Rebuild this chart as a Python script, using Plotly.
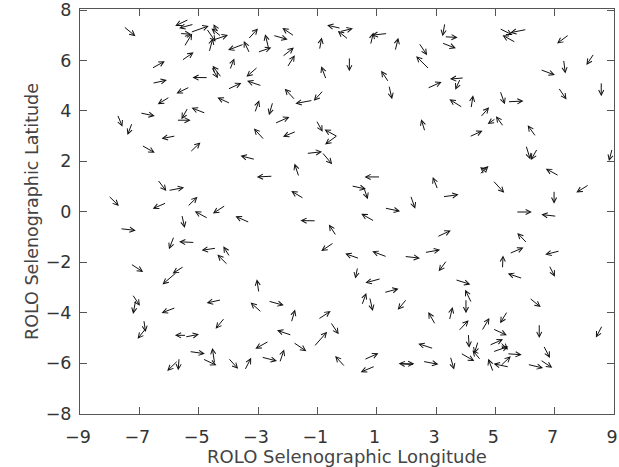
import plotly.graph_objects as go

# Arrow tails (selenographic longitude / latitude, degrees)
x_tail = [-7.54,-5.33,-5.16,-5.64,-5.49,-5.28,-4.35,-4.23,-4.65,-4.51,-4.74,-6.59,-5.58,-4.23,-4.57,-6.57,-4.68,-5.30,-5.97,-3.93,
          -6.98,-7.74,-7.24,-5.36,-4.76,-5.75,-5.77,-3.34,-3.47,-3.28,-3.02,-2.64,-2.50,-1.77,-2.19,-2.02,-3.95,-3.00,-4.03,-2.87,
          -1.15,-0.79,-1.74,-3.11,-2.50,-2.44,-2.78,-1.71,-1.04,-0.31,-0.93,-0.70,0.08,-0.20,0.05,-0.25,1.37,0.79,1.62,2.42,
          2.78,3.30,3.28,3.19,1.41,1.41,2.70,3.95,3.82,3.90,4.18,4.49,2.63,4.12,6.06,5.13,5.69,7.49,8.33,6.51,
          7.30,8.57,7.12,5.16,5.41,5.28,5.02,6.37,-6.93,-5.30,-6.39,-6.03,-8.05,-6.08,-5.39,-4.68,-4.09,-5.57,-7.65,-5.83,
          -5.13,-4.40,-3.95,-4.01,-7.30,-5.49,-0.31,-1.37,-0.85,-3.09,-1.62,-2.50,-1.45,-3.28,-1.04,-0.36,-0.44,0.42,0.36,1.13,
          0.14,0.57,3.06,3.22,2.14,1.26,0.93,4.46,4.74,3.03,2.61,1.93,1.35,3.37,6.03,6.42,8.94,4.91,7.15,6.98,
          8.16,5.69,7.07,6.08,5.47,7.18,5.24,6.81,-5.73,-7.24,-7.12,-5.77,-4.23,-6.85,-6.76,-4.12,-5.41,-5.47,-5.32,-4.87,
          -4.46,-5.66,-5.69,-2.97,-2.87,-2.66,-1.88,-0.98,-0.56,-1.86,-1.82,-1.12,-2.63,-4.01,-3.45,-2.89,-2.27,-0.06,1.15,1.24,
          0.50,0.76,2.02,2.98,3.45,3.64,4.20,4.01,3.75,4.54,4.09,3.82,4.51,4.42,2.92,0.57,0.95,1.77,2.27,2.55,
          3.48,5.92,6.14,5.41,4.91,6.48,4.79,4.91,5.16,5.39,5.16,5.47,4.93,6.62,6.51,6.08,8.61]
y_tail = [7.36,7.63,7.44,7.07,6.54,7.11,7.10,6.94,6.32,6.81,7.27,5.68,5.99,5.31,5.75,5.09,5.32,4.95,4.56,4.29,
          3.92,3.86,3.53,4.13,3.90,3.63,3.01,6.83,6.65,6.28,6.32,6.47,7.00,6.96,6.14,5.72,5.62,5.75,4.85,4.99,
          4.42,4.82,4.42,3.92,4.36,3.50,2.84,3.19,3.63,2.97,6.41,5.24,6.14,7.27,6.83,7.14,7.07,6.61,6.37,6.70,
          5.64,7.49,6.94,6.70,5.13,5.02,4.89,5.31,5.28,4.13,4.09,3.74,3.17,2.97,7.23,7.27,6.71,7.03,6.28,5.64,
          6.04,5.15,4.93,4.80,4.36,3.37,3.70,2.97,2.64,2.35,1.28,0.84,0.65,0.36,0.19,-0.27,0.26,-0.11,-0.67,-0.97,
          -1.22,-1.44,-1.79,-2.12,-2.06,-2.16,3.04,2.31,2.37,2.07,1.38,1.41,0.52,-0.43,-0.36,-0.96,-1.22,-1.86,-2.19,1.38,
          1.03,0.95,0.88,0.59,0.65,0.15,-0.38,1.47,1.51,-1.00,-1.62,-1.77,-1.79,-1.92,2.64,2.51,2.51,1.25,1.42,0.85,
          1.08,-0.01,-0.18,-1.26,-1.66,-1.55,-2.26,-2.12,-2.39,-3.27,-3.49,-3.80,-3.49,-4.28,-4.60,-4.20,-4.90,-4.97,-5.54,-5.83,
          -6.03,-5.79,-5.89,-3.22,-4.00,-3.54,-4.40,-4.27,-4.37,-4.90,-5.17,-5.36,-5.13,-5.79,-6.29,-5.76,-5.99,-6.16,-2.65,-3.21,
          -3.71,-3.38,-3.45,-4.48,-4.31,-2.69,-3.62,-3.45,-4.74,-4.73,-4.83,-5.60,-5.89,-5.13,-5.43,-5.87,-6.12,-6.03,-6.06,-5.93,
          -5.73,-2.65,-3.41,-3.94,-4.64,-4.44,-5.30,-5.56,-5.17,-5.63,-6.13,-6.16,-6.36,-5.30,-5.87,-6.05,-4.50]
# Vector components (degrees)
u = [0.41,-0.46,-0.50,0.39,0.27,0.62,-0.15,-0.34,0.13,0.50,0.31,0.45,0.41,-0.30,0.22,0.50,-0.53,-0.45,-0.41,-0.44,
     0.50,0.17,-0.16,-0.22,-0.48,0.48,-0.48,0.34,-0.54,-0.20,0.47,-0.12,0.50,-0.41,0.40,0.26,0.15,-0.39,0.47,-0.50,
     -0.59,-0.33,-0.36,0.15,-0.13,0.50,-0.36,-0.45,0.22,-0.45,0.08,-0.17,0.00,-0.47,-0.36,0.45,-0.54,0.10,0.11,0.28,
     -0.45,-0.08,0.45,0.48,-0.26,0.11,0.49,-0.48,-0.17,-0.45,0.07,0.30,-0.13,0.45,-0.56,0.45,-0.45,-0.41,-0.26,0.50,
     0.06,0.00,0.28,0.16,0.54,-0.26,-0.28,-0.28,0.45,0.36,0.30,0.54,0.36,-0.47,0.35,-0.45,-0.43,0.10,0.53,-0.17,
     -0.53,-0.50,-0.22,-0.36,0.43,-0.39,-0.43,0.53,0.35,-0.50,-0.15,-0.54,-0.43,-0.48,-0.53,-0.25,-0.43,-0.48,-0.08,-0.54,
     0.50,0.13,-0.17,0.54,0.16,0.53,-0.45,0.31,-0.25,0.47,0.53,0.53,-0.50,-0.28,0.15,-0.22,-0.11,0.39,-0.45,0.00,
     -0.43,0.54,-0.52,-0.34,0.48,-0.50,0.02,0.20,-0.49,0.26,-0.09,-0.48,-0.50,0.06,-0.30,-0.31,-0.39,0.48,0.53,0.47,
     -0.08,-0.03,-0.37,-0.07,-0.38,0.53,0.13,0.43,0.28,-0.50,0.45,0.45,-0.46,0.34,0.22,0.53,0.15,-0.34,-0.53,0.50,
     0.15,0.11,-0.31,-0.24,0.11,0.52,-0.22,0.00,0.35,0.26,0.03,0.47,-0.28,-0.13,-0.52,0.49,-0.49,0.50,-0.53,0.53,
     0.13,-0.50,0.39,-0.25,0.48,0.00,0.47,0.53,0.27,0.50,0.36,-0.53,-0.17,0.22,0.41,0.53,-0.22]
v = [-0.40,-0.26,-0.16,-0.03,0.53,0.26,0.34,0.33,0.56,0.20,-0.53,0.29,0.33,0.48,-0.46,0.13,0.00,-0.26,-0.30,0.24,
     -0.12,-0.49,-0.49,-0.46,0.22,0.00,-0.11,0.44,-0.24,0.49,0.19,0.57,-0.17,0.33,0.37,0.49,0.46,-0.40,0.26,0.20,
     -0.13,-0.42,0.46,0.50,-0.53,0.26,0.46,-0.22,-0.46,0.29,0.50,0.53,-0.57,0.13,0.34,0.13,-0.07,0.50,0.53,-0.49,
     0.53,-0.53,-0.03,-0.22,0.46,-0.56,0.26,-0.05,-0.44,0.33,0.53,0.40,0.50,0.24,-0.13,-0.26,0.29,-0.36,-0.46,-0.22,
     -0.56,-0.57,-0.48,-0.54,0.03,0.42,-0.22,0.46,-0.30,0.40,-0.46,0.12,-0.42,-0.24,0.40,0.29,-0.33,-0.53,-0.07,-0.52,
     0.03,-0.09,0.42,0.42,-0.33,-0.29,-0.37,0.07,-0.49,0.15,0.53,-0.03,0.30,0.25,0.01,0.45,-0.34,0.20,-0.46,0.00,
     -0.13,-0.45,0.50,0.09,-0.53,-0.13,0.30,0.34,0.26,0.26,0.11,-0.07,0.22,-0.44,-0.57,-0.46,-0.50,-0.50,0.29,-0.53,
     -0.32,0.00,0.07,0.42,0.24,-0.15,0.53,-0.46,-0.49,-0.46,-0.56,-0.21,-0.13,-0.49,-0.44,-0.44,0.00,0.11,-0.09,-0.26,
     0.63,-0.50,-0.42,0.54,0.40,-0.17,0.52,0.33,-0.49,0.20,-0.36,0.60,-0.30,-0.44,0.50,-0.16,0.53,0.44,-0.17,0.16,
     0.49,-0.56,-0.44,0.50,0.53,-0.19,0.53,-0.57,0.44,0.52,-0.56,-0.32,0.40,-0.50,0.20,0.26,-0.24,0.00,0.04,-0.12,
     -0.53,0.20,-0.37,-0.48,-0.26,-0.57,0.24,0.22,-0.30,-0.04,0.40,0.13,0.53,-0.50,-0.32,-0.15,-0.49]

x_ticks = [-9, -7, -5, -3, -1, 1, 3, 5, 7, 9]
y_ticks = [-8, -6, -4, -2, 0, 2, 4, 6, 8]
x_title = "ROLO Selenographic Longitude"
y_title = "ROLO Selenographic Latitude"

fig = go.Figure()
fig.add_trace(go.Scatter(x=x_tail, y=y_tail, mode="markers",
                         marker=dict(opacity=0, size=1), hoverinfo="skip", showlegend=False))

annotations = []
for xt, yt, du, dv in zip(x_tail, y_tail, u, v):
    annotations.append(dict(
        x=xt + du, y=yt + dv, ax=xt, ay=yt,
        xref="x", yref="y", axref="x", ayref="y",
        text="", showarrow=True, arrowhead=5, arrowsize=1.0,
        arrowwidth=1, arrowcolor="#111111", standoff=0, startstandoff=0))

axis_common = dict(
    showgrid=False, zeroline=False, showline=True, linecolor="#555555", linewidth=1,
    mirror="ticks", ticks="inside", ticklen=7, tickcolor="#555555", tickwidth=1,
    tickfont=dict(family="DejaVu Sans", size=17.5, color="#333333"),
    ticklabeloverflow="allow", automargin=False,
)

fig.update_layout(
    width=619, height=467,
    margin=dict(l=80, r=5, t=9, b=53),
    paper_bgcolor="white", plot_bgcolor="white",
    showlegend=False,
    annotations=annotations,
    xaxis=dict(range=[-9, 9], tickvals=x_ticks, ticklabelstandoff=7, ticklabelshift=-2,
               title=dict(text=x_title, font=dict(family="DejaVu Sans", size=18, color="#444444"), standoff=3),
               **axis_common),
    yaxis=dict(range=[-8.02, 8.04], tickvals=y_ticks, ticklabelstandoff=4,
               title=dict(text=y_title, font=dict(family="DejaVu Sans", size=17.5, color="#444444"), standoff=2),
               **axis_common),
)

fig.write_html("out.html")
